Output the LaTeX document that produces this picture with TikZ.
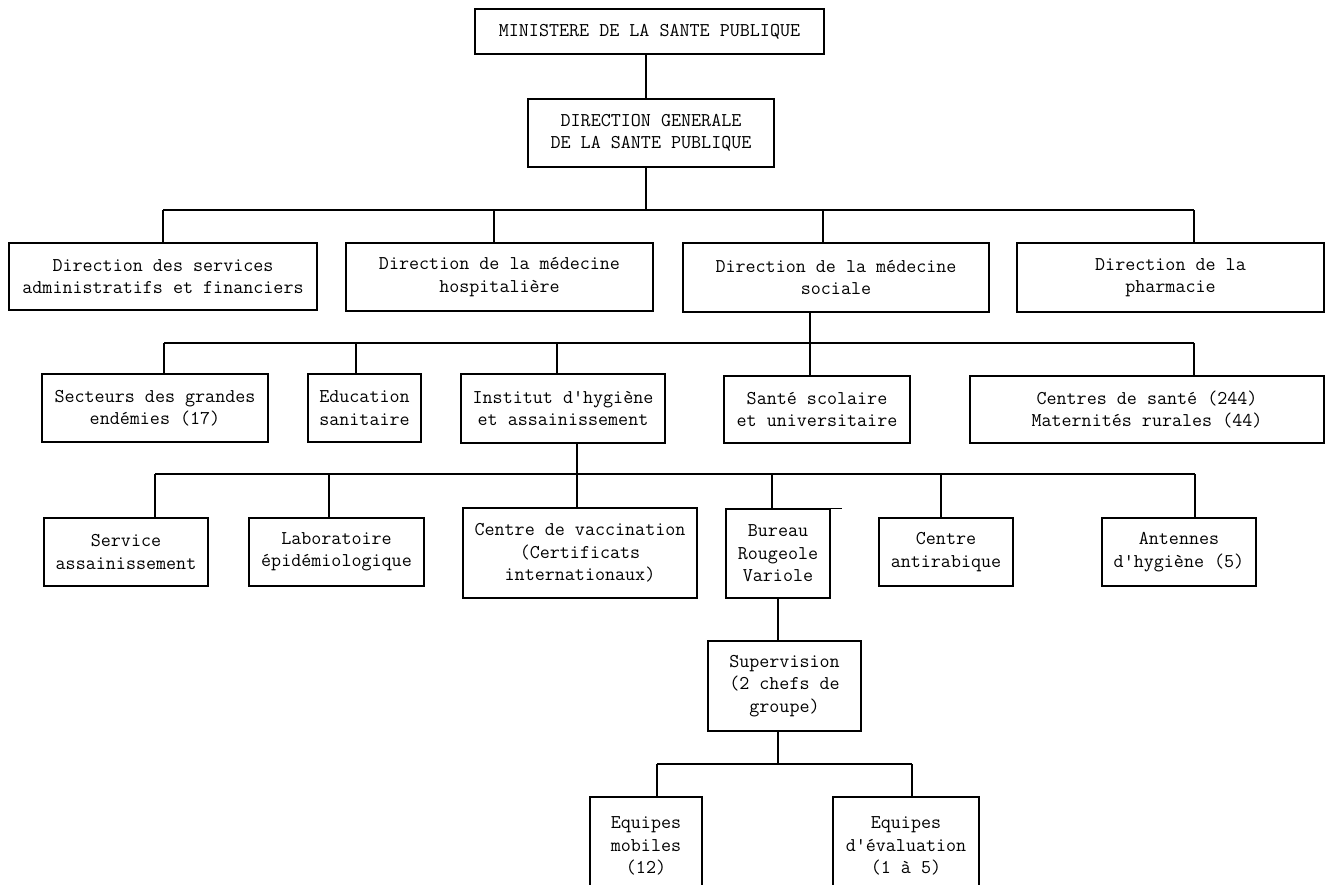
\documentclass[tikz,border=0pt]{standalone}
\tikzstyle{box} = [rectangle, draw, line width=1.3pt, inner sep=0pt, align=center,
    font=\ttfamily\fontsize{19.5}{22.5}\selectfont]

\begin{document}
\begin{tikzpicture}[x=1pt,y=-1pt,line width=1.3pt]
  \useasboundingbox (0,0) rectangle (1327,884);

  % ministry and general direction
  \node[box,minimum width=349pt,minimum height=45pt] (min) at (649.5,31.5) {MINISTERE DE LA SANTE PUBLIQUE};
  \node[box,minimum width=246pt,minimum height=68pt] (dg) at (651,133) {DIRECTION GENERALE\\DE LA SANTE PUBLIQUE};

  % directions
  \node[box,minimum width=308pt,minimum height=67pt] (dsaf) at (163,276.5) {Direction des services\\administratifs et financiers};
  \node[box,minimum width=307pt,minimum height=68pt] (dmh) at (499.5,277) {Direction de la médecine\\hospitalière};
  \node[box,minimum width=306pt,minimum height=69pt] (dms) at (836,277.5) {Direction de la médecine\\sociale};
  \node[box,minimum width=307pt,minimum height=69pt] (dph) at (1170.5,277.5) {Direction de la\\pharmacie};

  % services of the social medicine
  \node[box,minimum width=226pt,minimum height=68pt] (sge) at (155,408) {Secteurs des grandes\\endémies (17)};
  \node[box,minimum width=113pt,minimum height=68pt] (eds) at (364.5,408) {Education\\sanitaire};
  \node[box,minimum width=204pt,minimum height=69pt] (iha) at (563,408.5) {Institut d'hygiène\\et assainissement};
  \node[box,minimum width=186pt,minimum height=67pt] (ssu) at (817,409.5) {Santé scolaire\\et universitaire};
  \node[box,minimum width=354pt,minimum height=67pt] (cds) at (1147,409.5) {Centres de santé (244)\\Maternités rurales (44)};

  % units of the institute
  \node[box,minimum width=164pt,minimum height=68pt] (sas) at (126,552) {Service\\assainissement};
  \node[box,minimum width=175pt,minimum height=68pt] (lab) at (336.5,552) {Laboratoire\\épidémiologique};
  \node[box,minimum width=234pt,minimum height=90pt] (cvac) at (580,553) {Centre de vaccination\\(Certificats\\internationaux)};
  \node[box,minimum width=104pt,minimum height=89pt] (brv) at (778,553.5) {Bureau\\Rougeole\\Variole};
  \node[box,minimum width=134pt,minimum height=68pt] (cab) at (946,552) {Centre\\antirabique};
  \node[box,minimum width=154pt,minimum height=68pt] (ahy) at (1179,552) {Antennes\\d'hygiène (5)};

  % measles / smallpox bureau
  \node[box,minimum width=153pt,minimum height=90pt] (sup) at (784.5,686) {Supervision\\(2 chefs de\\groupe)};
  \node[box,minimum width=112pt,minimum height=98pt] (emo) at (646,846) {Equipes\\mobiles\\(12)};
  \node[box,minimum width=146pt,minimum height=98pt] (eev) at (906,846) {Equipes\\d'évaluation\\(1 à 5)};

  % bus points
  \coordinate (t11) at (163,210);
  \coordinate (t12) at (494,210);
  \coordinate (t13) at (646,210);
  \coordinate (t14) at (823,210);
  \coordinate (t15) at (1194,210);
  \coordinate (t21) at (164,343);
  \coordinate (t22) at (356,343);
  \coordinate (t23) at (557,343);
  \coordinate (t24) at (810,343);
  \coordinate (t25) at (1194,343);
  \coordinate (t31) at (155,474);
  \coordinate (t32) at (329,474);
  \coordinate (t33) at (577,474);
  \coordinate (t34) at (772,474);
  \coordinate (t35) at (941,474);
  \coordinate (t36) at (1195,474);
  \coordinate (t41) at (657,764);
  \coordinate (t42) at (778,764);
  \coordinate (t43) at (912,764);

  \draw (min.south -| t13) -- (dg.north -| t13);
  \draw (dg.south -| t13) -- (t13);
  \draw (t11) -- (t15);
  \draw (t11) -- (t11 |- dsaf.north);
  \draw (t12) -- (t12 |- dmh.north);
  \draw (t14) -- (t14 |- dms.north);
  \draw (t15) -- (t15 |- dph.north);

  \draw (dms.south -| t24) -- (t24 |- ssu.north);
  \draw (t21) -- (t25);
  \draw (t21) -- (t21 |- sge.north);
  \draw (t22) -- (t22 |- eds.north);
  \draw (t23) -- (t23 |- iha.north);
  \draw (t25) -- (t25 |- cds.north);

  \draw (iha.south -| t33) -- (t33 |- cvac.north);
  \draw (t31) -- (t36);
  \draw (t31) -- (t31 |- sas.north);
  \draw (t32) -- (t32 |- lab.north);
  \draw (t34) -- (t34 |- brv.north);
  \draw (t35) -- (t35 |- cab.north);
  \draw (t36) -- (t36 |- ahy.north);
  \draw (brv.north east) -- ++(11,0);

  \draw (brv.south -| t42) -- (sup.north -| t42);
  \draw (sup.south -| t42) -- (t42);
  \draw (t41) -- (t43);
  \draw (t41) -- (t41 |- emo.north);
  \draw (t43) -- (t43 |- eev.north);
\end{tikzpicture}
\end{document}
